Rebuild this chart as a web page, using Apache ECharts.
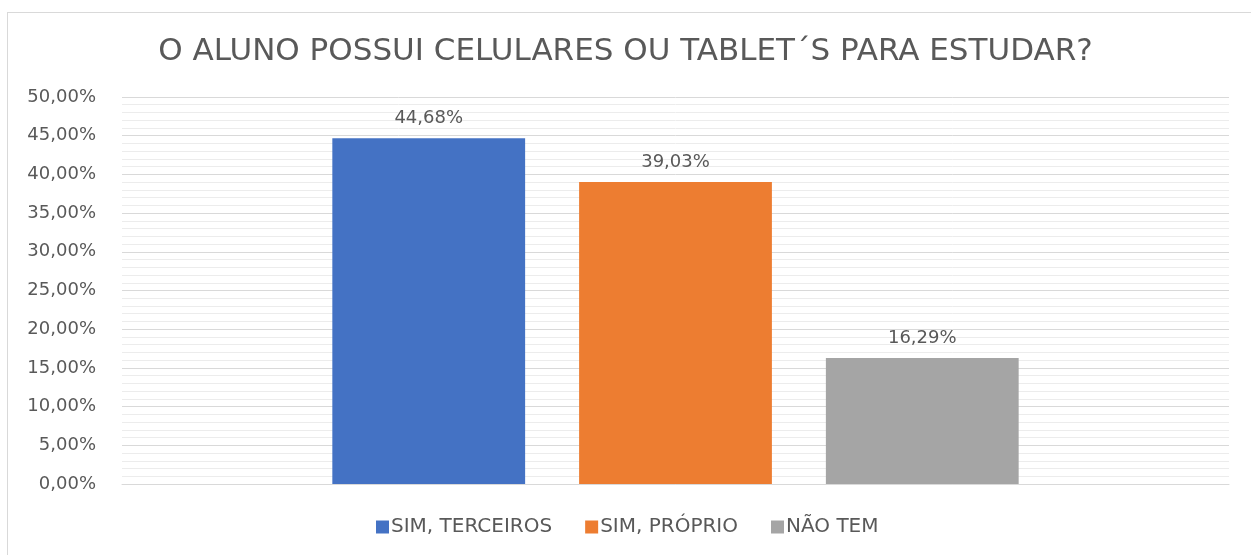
<!DOCTYPE html>
<html lang="pt">
<head>
    <meta charset="UTF-8">
    <title>O aluno possui celulares ou tablets</title>
    <style>
        body { margin: 0; background: #fff; }
        #frame { position: absolute; left: 7px; top: 12px; width: 1260px; height: 560px;
                 border: 1px solid #d9d9d9; box-sizing: border-box; }
        #main { position: absolute; left: 0; top: 0; width: 1251px; height: 555px; }
    </style>
</head>
<body>
<div id="frame"></div>
<div id="main"></div>
<script src="https://cdn.jsdelivr.net/npm/echarts@6/dist/echarts.min.js"></script>
<script>
    var titulo = 'O ALUNO POSSUI CELULARES OU TABLET\u00B4S PARA ESTUDAR?';
    var categorias = ['SIM, TERCEIROS', 'SIM, PRÓPRIO', 'NÃO TEM'];
    var valores = [44.68, 39.03, 16.29];
    var cores = ['#4472c4', '#ed7d31', '#a5a5a5'];

    var fonte = 'DejaVu Sans, sans-serif';
    var myChart = echarts.init(document.getElementById('main'));

    function pct(v) {
        return v.toFixed(2).replace('.', ',') + '%';
    }

    var series = categorias.map(function (nome, i) {
        return {
            name: nome,
            type: 'bar',
            data: [valores[i]],
            barGap: '28%',
            barCategoryGap: '38%',
            itemStyle: { color: cores[i] },
            label: {
                show: true,
                position: 'top',
                distance: 11,
                color: '#595959',
                fontSize: 18,
                fontFamily: fonte,
                formatter: function (p) { return pct(p.value); }
            }
        };
    });

    var option = {
        animation: false,
        title: {
            text: titulo,
            left: 'center',
            top: 31,
            textStyle: { color: '#595959', fontSize: 31, fontWeight: 'normal', fontFamily: fonte }
        },
        legend: {
            data: categorias,
            bottom: 13,
            left: 371,
            itemWidth: 13,
            itemHeight: 13,
            itemGap: 33,
            icon: 'rect',
            textStyle: { color: '#595959', fontSize: 20, fontFamily: fonte, padding: [0, 0, 0, -3] }
        },
        grid: { left: 122, right: 22, top: 97, bottom: 71 },
        xAxis: {
            type: 'category',
            data: [''],
            axisLine: { lineStyle: { color: '#d9d9d9', width: 1 } },
            axisTick: { show: false },
            axisLabel: { show: false }
        },
        yAxis: {
            type: 'value',
            min: 0,
            max: 50,
            interval: 5,
            axisLine: { show: false },
            axisTick: { show: false },
            axisLabel: {
                color: '#595959',
                fontSize: 18,
                fontFamily: fonte,
                margin: 26,
                formatter: pct
            },
            splitLine: { lineStyle: { color: '#d9d9d9', width: 1 } },
            minorTick: { show: false, splitNumber: 5 },
            minorSplitLine: { show: true, lineStyle: { color: '#ececec', width: 1 } }
        },
        series: series
    };

    myChart.setOption(option);
</script>
</body>
</html>
